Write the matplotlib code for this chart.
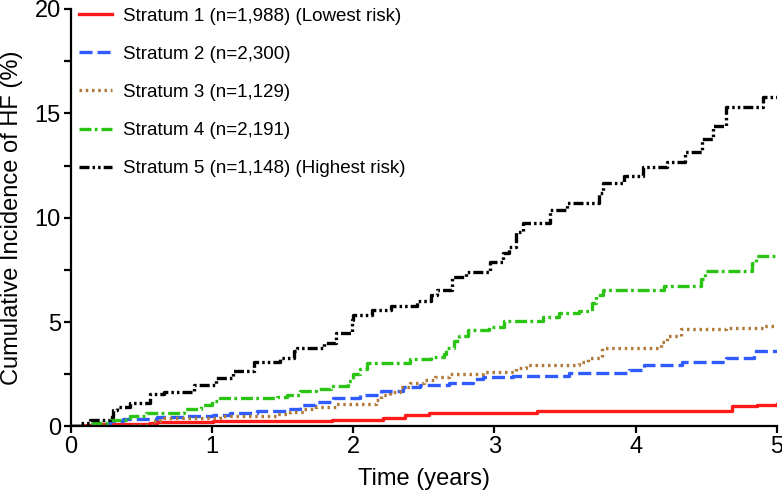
import numpy as np
import matplotlib
matplotlib.use("Agg")
import matplotlib.pyplot as plt

plt.rcParams['font.family'] = ['Liberation Sans', 'DejaVu Sans']
plt.rcParams['lines.scale_dashes'] = False

# step curves: time (years) and cumulative incidence (%)
t1 = [0, 0.1, 0.2, 0.56, 0.61, 1.01, 1.85, 2.21, 2.37, 2.54, 3.30, 4.68, 4.86, 5.0]
v1 = [0, 0.05, 0.1, 0.16, 0.21, 0.27, 0.32, 0.42, 0.55, 0.65, 0.73, 1.0, 1.05, 1.08]

t2 = [0, 0.16, 0.28, 0.37, 0.61, 0.8, 1.01, 1.13, 1.32, 1.53, 1.62, 1.73, 1.86, 2.05, 2.2,
      2.35, 2.47, 2.68, 2.85, 2.92, 3.13, 3.53, 3.95, 4.06, 4.33, 4.64, 4.84, 5.0]
v2 = [0, 0.1, 0.27, 0.36, 0.44, 0.48, 0.55, 0.63, 0.72, 0.85, 1.05, 1.18, 1.35, 1.5, 1.72,
      1.87, 1.98, 2.1, 2.27, 2.38, 2.42, 2.57, 2.71, 2.93, 3.08, 3.3, 3.6, 3.62]

t3 = [0, 0.45, 0.58, 0.63, 1.06, 1.45, 1.55, 1.65, 1.74, 1.88, 2.16, 2.2, 2.26, 2.33, 2.4,
      2.5, 2.58, 2.68, 2.92, 3.15, 3.22, 3.6, 3.66, 3.76, 4.18, 4.22, 4.32, 4.64, 4.9, 5.0]
v3 = [0, 0.05, 0.25, 0.39, 0.5, 0.62, 0.68, 0.82, 0.92, 1.06, 1.25, 1.5, 1.67, 1.9, 2.08,
      2.22, 2.38, 2.52, 2.63, 2.78, 2.95, 3.1, 3.3, 3.78, 4.05, 4.35, 4.65, 4.74, 4.82, 4.82]

t4 = [0, 0.12, 0.16, 0.28, 0.42, 0.53, 0.8, 0.92, 1.0, 1.06, 1.46, 1.53, 1.62, 1.74, 1.84,
      1.96, 2.0, 2.05, 2.1, 2.4, 2.55, 2.64, 2.66, 2.71, 2.75, 2.81, 2.96, 3.07, 3.34, 3.46,
      3.6, 3.69, 3.72, 3.77, 4.2, 4.46, 4.49, 4.82, 4.85, 5.0]
v4 = [0, 0.1, 0.18, 0.31, 0.5, 0.63, 0.82, 1.03, 1.2, 1.38, 1.42, 1.49, 1.72, 1.81, 1.94,
      2.2, 2.5, 2.75, 3.06, 3.22, 3.35, 3.45, 3.75, 4.1, 4.35, 4.6, 4.78, 5.05, 5.26, 5.42,
      5.55, 5.9, 6.3, 6.52, 6.73, 7.05, 7.47, 7.82, 8.17, 8.17]

t5 = [0, 0.07, 0.14, 0.28, 0.3, 0.33, 0.42, 0.56, 0.66, 0.87, 1.03, 1.15, 1.3, 1.48, 1.58,
      1.6, 1.79, 1.88, 1.99, 2.0, 2.13, 2.27, 2.45, 2.55, 2.59, 2.7, 2.8, 2.97, 3.06, 3.1,
      3.15, 3.2, 3.39, 3.51, 3.74, 3.77, 3.92, 4.05, 4.22, 4.35, 4.47, 4.55, 4.64, 4.9, 5.0]
v5 = [0, 0.15, 0.3, 0.47, 0.8, 0.95, 1.11, 1.56, 1.67, 1.99, 2.31, 2.67, 3.1, 3.27, 3.6,
      3.75, 4.02, 4.47, 5.1, 5.34, 5.6, 5.75, 6.0, 6.3, 6.54, 7.18, 7.42, 7.9, 8.3, 8.62,
      9.33, 9.74, 10.37, 10.72, 11.2, 11.65, 12.0, 12.45, 12.68, 13.15, 13.75, 14.4, 15.32, 15.78, 15.8]

labels = ['Stratum 1 (n=1,988) (Lowest risk)', 'Stratum 2 (n=2,300)', 'Stratum 3 (n=1,129)',
          'Stratum 4 (n=2,191)', 'Stratum 5 (n=1,148) (Highest risk)']
colors = ['#FF1A1A', '#2F5BFF', '#B07A3A', '#2CC414', '#000000']
styles = ['-', (0, (9.4, 3.6)), (0, (1.8, 2.7)), (0, (8.6, 2.4, 2.0, 2.8)),
          (0, (7.2, 2.2, 1.8, 2.2, 1.8, 2.2))]

fig = plt.figure(figsize=(7.82, 4.95), dpi=100)
ax = fig.add_axes([0.0904, 0.1384, 0.9936 - 0.0904, 0.982 - 0.1384])

series = [(t1, v1), (t2, v2), (t3, v3), (t4, v4), (t5, v5)]
for (t, v), lab, c, ls in zip(series, labels, colors, styles):
    ax.step(t, v, where='post', color=c, linestyle=ls, linewidth=2.4,
            dash_capstyle='butt', label=lab)

ax.set_xlim(0, 5)
ax.set_ylim(0, 20)
ax.set_xticks([0, 1, 2, 3, 4, 5])
ax.set_yticks([0, 5, 10, 15, 20])
ax.set_yticks(np.arange(2.5, 20, 5), minor=True)

for s in ['top', 'right']:
    ax.spines[s].set_visible(False)
for s in ['left', 'bottom']:
    ax.spines[s].set_linewidth(1.6)

ax.tick_params(which='both', direction='out', width=1.6, length=5, labelsize=17, pad=2)

ax.set_xlabel('Time (years)', fontsize=17)
ax.set_ylabel('Cumulative Incidence of HF (%)', fontsize=17)
ax.xaxis.set_label_coords(0.5, -0.1)
ax.yaxis.set_label_coords(-0.068, 0.5)

ax.legend(loc='upper left', bbox_to_anchor=(0.012, 1.003), frameon=False, fontsize=13.5,
          handlelength=1.75, handletextpad=0.6, labelspacing=1.12, borderpad=0, borderaxespad=0)

fig.savefig('out.png', dpi=100)
